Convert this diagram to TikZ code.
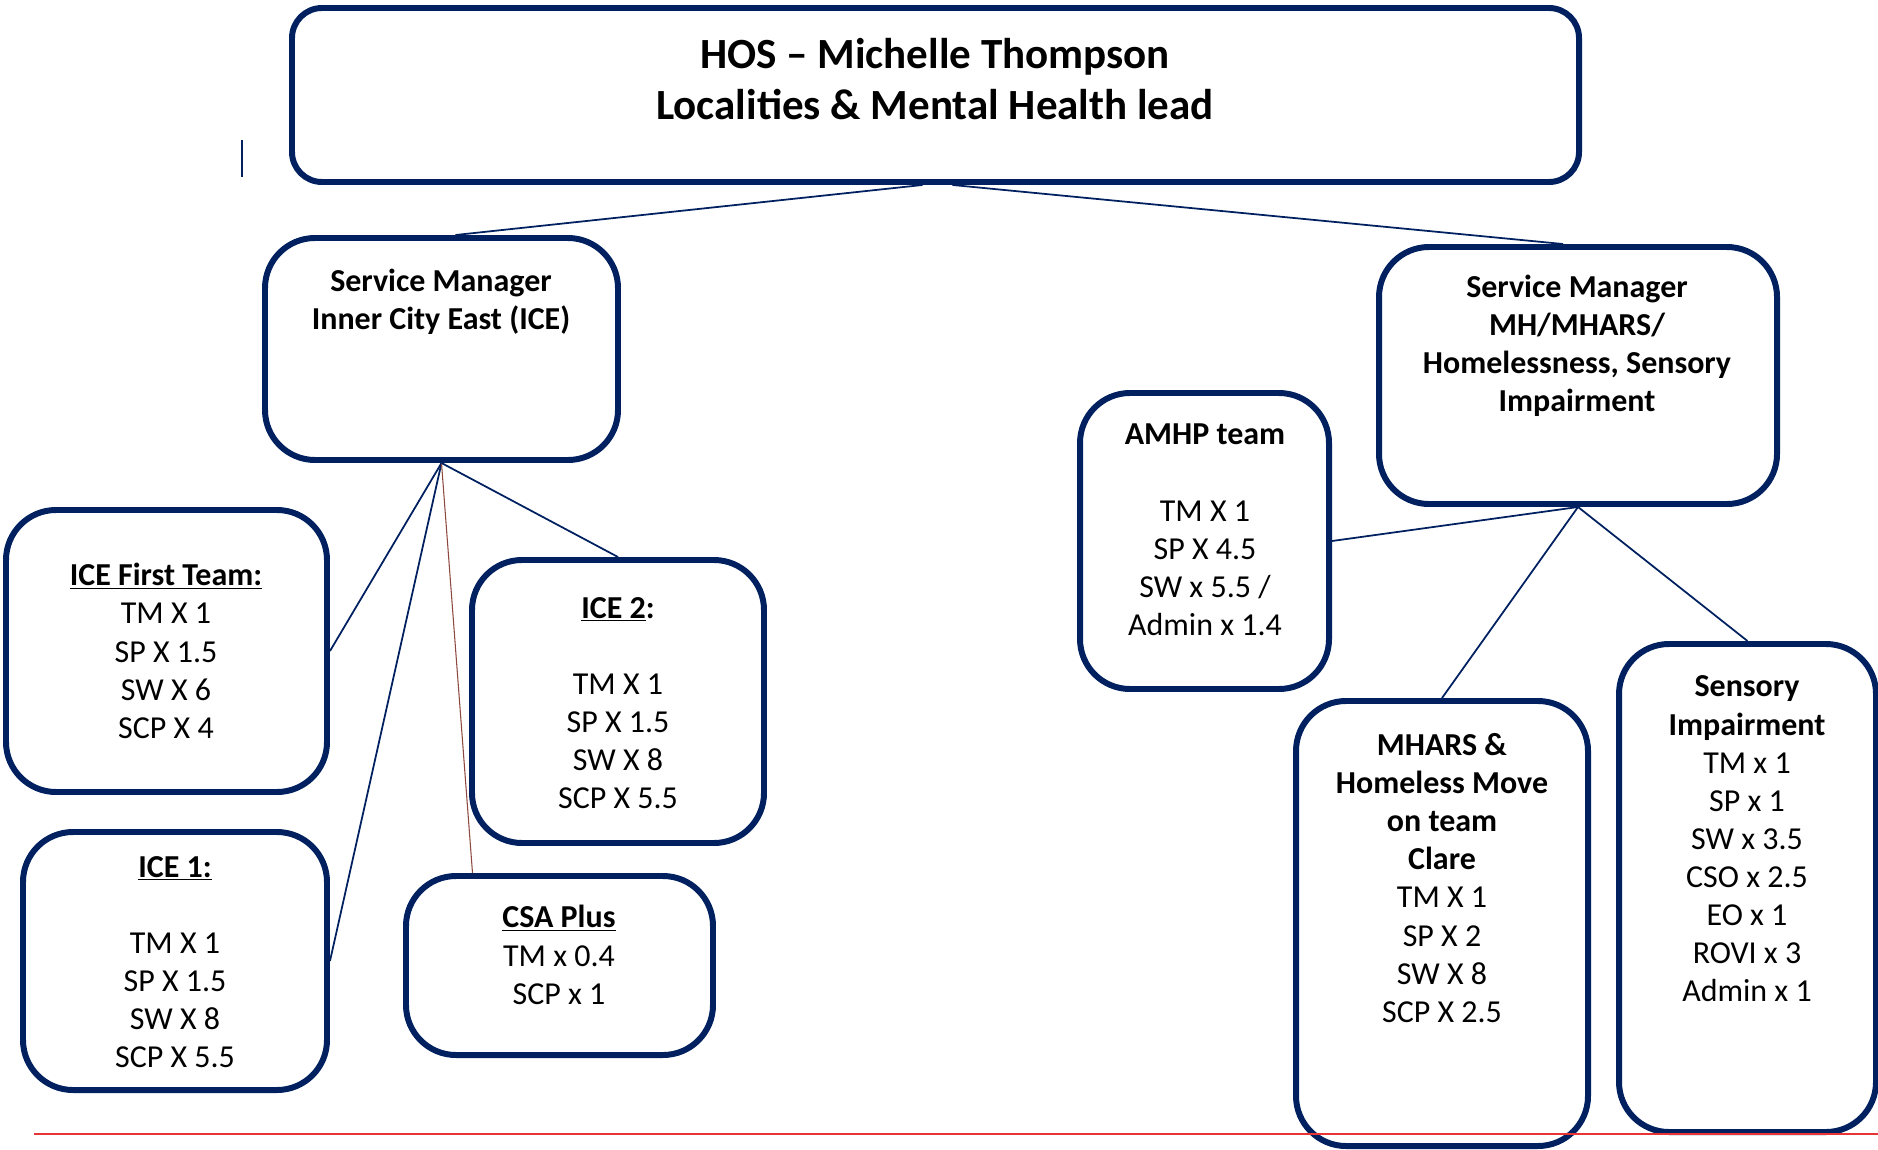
\documentclass[tikz,border=0pt]{standalone}
\usepackage{fontspec}
\setmainfont{Carlito}
\usetikzlibrary{fit}
\usetikzlibrary{calc}

\definecolor{navy}{RGB}{0,32,96}
\definecolor{rust}{RGB}{140,72,62}
\definecolor{redline}{RGB}{232,52,52}

\begin{document}
\begin{tikzpicture}[x=0.02cm, y=-0.02cm,
        box_style/.style={rectangle, draw=navy, line width=3.4pt, rounded corners=1cm, inner sep=0pt, fill=white},
        head_style/.style={box_style, rounded corners=0.6cm},
        text_style/.style={align=center, inner sep=0pt, font=\fontsize{18.2pt}{21.7pt}\selectfont},
        bold_text_style/.style={text_style, font=\fontsize{18.2pt}{21.7pt}\selectfont\bfseries},
        title_style/.style={align=center, inner sep=0pt, font=\fontsize{24.5pt}{29pt}\selectfont\bfseries},
        edge_style/.style={draw=navy, line width=1pt},
        brown_edge_style/.style={draw=rust, line width=0.6pt}]

        \useasboundingbox (0,0) rectangle (1878,1149);

        % boxes
        \node [head_style, fit={(292,8) (1579,182)}] (hos) {};
        \node [box_style, fit={(265,238) (618,460)}] (smice) {};
        \node [box_style, fit={(1379,247) (1777,504)}] (smmh) {};
        \node [box_style, fit={(1080,393) (1329,689)}] (amhp) {};
        \node [box_style, fit={(1296,701) (1588,1146)}] (mhars) {};
        \node [box_style, fit={(1619,644) (1876,1132)}] (sensory) {};
        \node [box_style, fit={(6,510) (327,792)}] (icefirst) {};
        \node [box_style, fit={(23,832) (327,1090)}] (ice1) {};
        \node [box_style, fit={(472,560) (764,843)}] (ice2) {};
        \node [box_style, fit={(406,876) (713,1055)}] (csa) {};

        % texts
        \node [title_style] (hos_text) at (935,79) {HOS – Michelle Thompson\\Localities \& Mental Health lead};
        \node [bold_text_style] (smice_text) at (441,302) {Service Manager\\Inner City East (ICE)};
        \node [bold_text_style] (smmh_text) at (1577,346) {Service Manager\\MH/MHARS/\\Homelessness, Sensory\\Impairment};
        \node [text_style] (amhp_text) at (1205,530) {\textbf{AMHP team}\\ \\TM X 1\\SP X 4.5\\SW x 5.5 /\\Admin x 1.4};
        \node [text_style] (mhars_text) at (1442,878) {\textbf{MHARS \&}\\\textbf{Homeless Move}\\\textbf{on team}\\\textbf{Clare}\\TM X 1\\SP X 2\\SW X 8\\SCP X 2.5};
        \node [text_style] (sensory_text) at (1747,839) {\textbf{Sensory}\\\textbf{Impairment}\\TM x 1\\SP x 1\\SW x 3.5\\CSO x 2.5\\EO x 1\\ROVI x 3\\Admin x 1};
        \node [text_style] (icefirst_text) at (166,651) {\textbf{\underline{ICE First Team:}}\\TM X 1\\SP X 1.5\\SW X 6\\SCP X 4};
        \node [text_style] (ice1_text) at (175,962) {\textbf{\underline{ICE 1:}}\\ \\TM X 1\\SP X 1.5\\SW X 8\\SCP X 5.5};
        \node [text_style] (ice2_text) at (618,703) {\textbf{\underline{ICE 2}:}\\ \\TM X 1\\SP X 1.5\\SW X 8\\SCP X 5.5};
        \node [text_style] (csa_text) at (559,955) {\textbf{\underline{CSA Plus}}\\TM x 0.4\\SCP x 1};

        % connectors
        \draw [edge_style] ($(hos.south)+(-13,0)$) -- ($(smice.north)+(14,0)$);
        \draw [edge_style] ($(hos.south)+(17,0)$) -- ($(smmh.north)+(-15,0)$);
        \draw [edge_style] (smice.south) -- (icefirst.east);
        \draw [edge_style] (smice.south) -- (ice1.east);
        \draw [brown_edge_style] (smice.south) -- ($(csa.north)+(-87,0)$);
        \draw [edge_style] (smice.south) -- (ice2.north);
        \draw [edge_style] (smmh.south) -- (amhp.east);
        \draw [edge_style] (smmh.south) -- (mhars.north);
        \draw [edge_style] (smmh.south) -- (sensory.north);

        % marks
        \coordinate (tick_top) at (242,140);
        \coordinate (tick_bottom) at (242,177);
        \draw [navy, line width=0.8pt] (tick_top) -- (tick_bottom);
        \coordinate (rule_left) at (34,1134);
        \coordinate (rule_right) at (1878,1134);
        \draw [redline, line width=0.6pt] (rule_left) -- (rule_right);
\end{tikzpicture}
\end{document}
